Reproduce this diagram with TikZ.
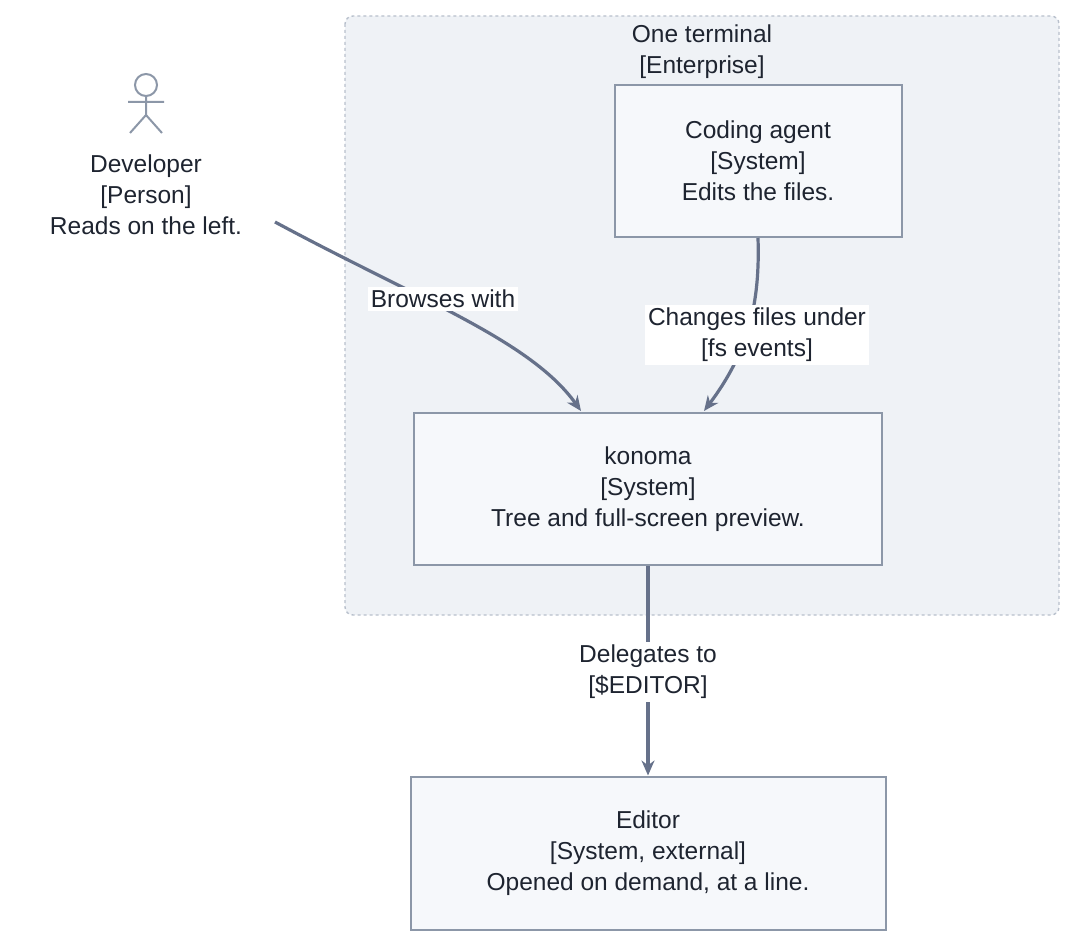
\documentclass[tikz,border=0pt]{standalone}
\usepackage{fontspec}
\setmainfont{Liberation Sans}
\usepackage{tikz}
\usetikzlibrary{positioning, calc, arrows.meta}
\definecolor{edge}{HTML}{66718A}
\definecolor{boxline}{HTML}{8C97A8}
\definecolor{boxfill}{HTML}{F6F8FB}
\definecolor{zonefill}{HTML}{EFF2F6}
\definecolor{zoneline}{HTML}{B8C0CC}
\definecolor{ink}{HTML}{1E2430}
\tikzset{
  sys/.style={draw=boxline, fill=boxfill, line width=2pt, align=center, text=ink, font=\fontsize{24.5}{31}\selectfont},
  rel/.style={draw=edge, line width=3.2pt, -{Stealth[length=15pt,width=13pt]}},
  lbl/.style={fill=white, align=center, text=ink, font=\fontsize{24.5}{31}\selectfont, inner sep=3pt}
}
\begin{document}
\begin{tikzpicture}[x=1pt, y=-1pt]
    \useasboundingbox (0,0) rectangle (1076,947);

    % Enterprise boundary
    \draw[draw=zoneline, fill=zonefill, dashed, line width=1.4pt, rounded corners=8pt] (345,16) rectangle (1059,615);
    \node[lbl, fill=none] (zone) at (702,52) {One terminal\\{}[Enterprise]};

    % Systems
    \node[sys, minimum width=287pt, minimum height=152pt] (agent) at (758,161) {Coding agent\\{}[System]\\Edits the files.};
    \node[sys, minimum width=468pt, minimum height=152pt] (konoma) at (648,489) {konoma\\{}[System]\\Tree and full-screen preview.};
    \node[sys, minimum width=475pt, minimum height=153pt] (editor) at (648,853) {Editor\\{}[System, external]\\Opened on demand, at a line.};

    % Person
    \draw[boxline, line width=2pt] (146,85) circle (11);
    \draw[boxline, line width=2pt] (146,96) -- (146,115) (128,102) -- (164,102)
        (146,115) -- (130,133) (146,115) -- (162,133);
    \node[lbl, fill=none] (dev) at (146,195) {Developer\\{}[Person]\\Reads on the left.};

    % Relations
    \coordinate (devout) at (275,222);
    \draw[rel] (devout) .. controls (420,300) and (530,340) .. (581,411);
    \node[lbl] at (443,299) {Browses with};
    \draw[rel] (agent.south) .. controls (760,300) and (750,350) .. (704,411);
    \node[lbl] at (757,335) {Changes files under\\{}[fs events]};
    \draw[rel] (konoma.south) -- (editor.north);
    \node[lbl] at (648,672) {Delegates to\\{}[\$EDITOR]};
\end{tikzpicture}
\end{document}
